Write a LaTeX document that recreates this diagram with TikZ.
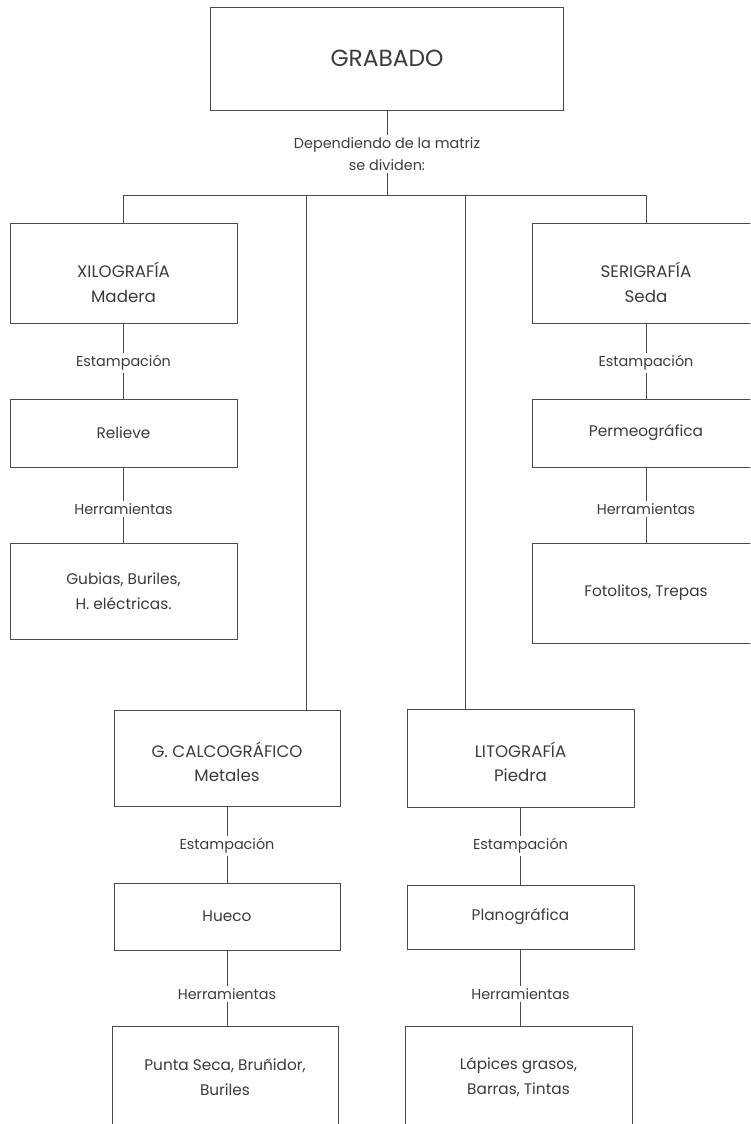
\documentclass[tikz,border=0pt]{standalone}
\usepackage{fontspec}
\setmainfont{Poppins}
\begin{document}
\begin{tikzpicture}[x=0.75pt,y=-0.75pt,
  every node/.style={text=txtc, font=\fontsize{11.5}{18.5}\selectfont},
  box/.style={draw=linec, line width=0.6pt, fill=white, align=center, inner sep=0pt},
  ttl/.style={align=center, inner sep=0pt, font=\fontsize{12.5}{18.5}\selectfont},
  lbl/.style={align=center, inner sep=2pt, font=\fontsize{10.8}{16.5}\selectfont},
  conn/.style={draw=linec, line width=0.6pt}]
\definecolor{txtc}{HTML}{3C3C3C}
\definecolor{linec}{HTML}{4A4A4A}
\useasboundingbox (0,0) rectangle (750,1124);
\clip (0,0) rectangle (750,1124);
% boxes
\node[box, minimum width=353*0.75pt, minimum height=103*0.75pt, font=\fontsize{17.5}{21}\selectfont] (grab) at (387,58.5) {GRABADO};
\node[lbl] (dep) at (387,154) {Dependiendo de la matriz\\se dividen:};
\node[box, minimum width=227*0.75pt, minimum height=100*0.75pt] (xilo) at (123.5,273) {};
\node[ttl] (xilot) at ([yshift=-7pt]xilo.center) {XILOGRAFÍA\\Madera};
\node[box, minimum width=227*0.75pt, minimum height=68*0.75pt] (rel) at (123.5,433) {Relieve};
\node[box, minimum width=227*0.75pt, minimum height=96*0.75pt] (gub) at (123.5,591) {Gubias, Buriles,\\H. eléctricas.};
\node[box, minimum width=228*0.75pt, minimum height=100*0.75pt] (seri) at (646,273) {};
\node[ttl] (serit) at ([yshift=-7pt]seri.center) {SERIGRAFÍA\\Seda};
\node[box, minimum width=228*0.75pt, minimum height=68*0.75pt] (perm) at (646,433) {Permeográfica};
\node[box, minimum width=228*0.75pt, minimum height=100*0.75pt] (foto) at (646,593) {Fotolitos, Trepas};
\node[box, minimum width=226*0.75pt, minimum height=96*0.75pt] (calc) at (227,758) {};
\node[ttl] (calct) at ([yshift=-3pt]calc.center) {G. CALCOGRÁFICO\\Metales};
\node[box, minimum width=226*0.75pt, minimum height=67*0.75pt] (hue) at (227,916.5) {Hueco};
\node[box, minimum width=226*0.75pt, minimum height=102*0.75pt] (pun) at (225,1077) {Punta Seca, Bruñidor,\\Buriles};
\node[box, minimum width=227*0.75pt, minimum height=98*0.75pt] (lito) at (520.5,758) {};
\node[ttl] (litot) at ([yshift=-3pt]lito.center) {LITOGRAFÍA\\Piedra};
\node[box, minimum width=227*0.75pt, minimum height=64*0.75pt] (plan) at (520.5,917) {Planográfica};
\node[box, minimum width=227*0.75pt, minimum height=102*0.75pt] (lap) at (518.5,1077) {Lápices grasos,\\Barras, Tintas};
% labels
\node[lbl] (e1) at (123.5,363) {Estampación};
\node[lbl] (h1) at (123.5,509) {Herramientas};
\node[lbl] (e2) at (646,363) {Estampación};
\node[lbl] (h2) at (646,509) {Herramientas};
\node[lbl] (e3) at (227,846) {Estampación};
\node[lbl] (h3) at (227,994) {Herramientas};
\node[lbl] (e4) at (520.5,846) {Estampación};
\node[lbl] (h4) at (520.5,994) {Herramientas};
% hub coordinates
\coordinate (hub) at (387,195);
\coordinate (b1) at (123.5,195);
\coordinate (b2) at (306,195);
\coordinate (b3) at (465,195);
\coordinate (b4) at (646,195);
% connectors
\draw[conn] (grab.south) -- (dep.north);
\draw[conn] (dep.south) -- (hub);
\draw[conn] (b1) -- (b4);
\draw[conn] (b1) -- (xilo.north);
\draw[conn] (b4) -- (seri.north);
\draw[conn] (b2) -- (b2 |- calc.north);
\draw[conn] (b3) -- (b3 |- lito.north);
\draw[conn] (xilo.south) -- (e1.north);
\draw[conn] (e1.south) -- (rel.north);
\draw[conn] (rel.south) -- (h1.north);
\draw[conn] (h1.south) -- (gub.north);
\draw[conn] (seri.south) -- (e2.north);
\draw[conn] (e2.south) -- (perm.north);
\draw[conn] (perm.south) -- (h2.north);
\draw[conn] (h2.south) -- (foto.north);
\draw[conn] (calc.south) -- (e3.north);
\draw[conn] (e3.south) -- (hue.north);
\draw[conn] (hue.south) -- (h3.north);
\draw[conn] (h3.south) -- (h3.south |- pun.north);
\draw[conn] (lito.south) -- (e4.north);
\draw[conn] (e4.south) -- (plan.north);
\draw[conn] (plan.south) -- (h4.north);
\draw[conn] (h4.south) -- (h4.south |- lap.north);
\end{tikzpicture}
\end{document}
